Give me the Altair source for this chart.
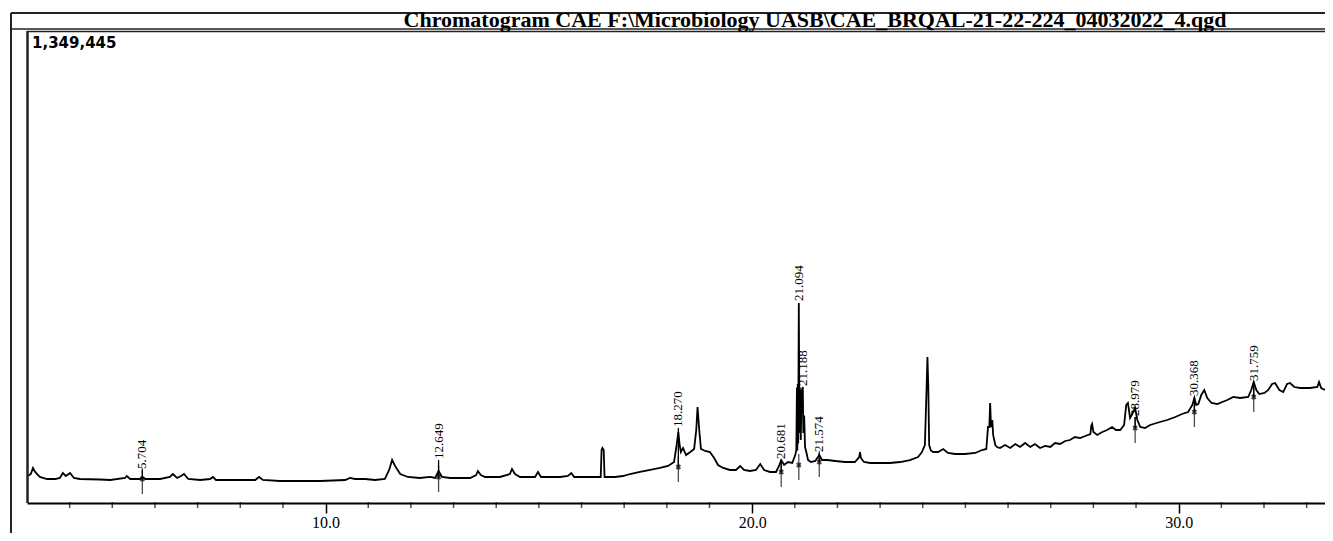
import altair as alt
import pandas as pd

# ---- data (time in min, intensity in counts) ----
times = [3.02, 3.09, 3.14, 3.19, 3.30, 3.47, 3.66, 3.77, 3.84, 3.91, 4.01, 4.10, 4.24, 4.71, 4.95,
         5.30, 5.34, 5.42, 5.65, 5.704, 5.77, 6.12, 6.35, 6.42, 6.52, 6.61, 6.68, 6.78, 7.06, 7.29,
         7.36, 7.43, 7.99, 8.35, 8.44, 8.53, 8.93, 9.40, 9.87, 10.46, 10.57, 10.69, 10.93, 11.16, 11.39,
         11.49, 11.56, 11.63, 11.75, 11.93, 12.21, 12.45, 12.57, 12.649, 12.73, 12.92, 13.39, 13.53, 13.57, 13.64,
         13.74, 14.09, 14.32, 14.37, 14.44, 14.56, 14.91, 14.98, 15.05, 15.50, 15.68, 15.76, 15.83, 16.20, 16.45,
         16.47, 16.49, 16.52, 16.54, 16.79, 16.97, 17.14, 17.37, 17.61, 17.84, 18.03, 18.17, 18.23, 18.270, 18.30,
         18.33, 18.38, 18.45, 18.55, 18.64, 18.69, 18.72, 18.76, 18.80, 18.90, 19.01, 19.11, 19.20, 19.32, 19.48,
         19.62, 19.72, 19.81, 19.95, 20.09, 20.19, 20.28, 20.42, 20.56, 20.63, 20.681, 20.75, 20.84, 20.94, 21.01,
         21.035, 21.05, 21.06, 21.07, 21.08, 21.094, 21.11, 21.12, 21.14, 21.16, 21.188, 21.20, 21.22, 21.24, 21.27,
         21.31, 21.38, 21.48, 21.574, 21.64, 21.76, 21.95,
         22.18, 22.41, 22.51, 22.53, 22.55, 22.62, 22.77, 23.00, 23.23, 23.47, 23.70, 23.89, 23.98, 24.05, 24.09,
         24.11, 24.13, 24.15, 24.19, 24.24, 24.36, 24.48, 24.59, 24.76, 24.99, 25.23, 25.39, 25.49, 25.53, 25.56,
         25.58, 25.60, 25.63, 25.65, 25.70, 25.74, 25.81, 25.93, 26.05, 26.17, 26.28, 26.40, 26.52, 26.63, 26.75,
         26.87, 26.99, 27.10, 27.22, 27.34, 27.45, 27.57, 27.69, 27.81, 27.93, 27.95, 27.97, 28.00, 28.09, 28.21,
         28.32, 28.44, 28.53, 28.63, 28.72, 28.77, 28.81, 28.86, 28.91, 28.979, 29.03, 29.10, 29.21, 29.33, 29.56,
         29.73, 29.92, 30.08, 30.22, 30.32, 30.368, 30.41, 30.46, 30.53, 30.60, 30.67, 30.77, 30.91, 31.02, 31.14,
         31.28, 31.44, 31.63, 31.70, 31.759, 31.82, 31.89, 32.01, 32.10, 32.19, 32.26, 32.36, 32.45, 32.54, 32.61,
         32.71, 32.85, 33.08, 33.25, 33.29, 33.34, 33.43]

intensity = [77200, 82900, 100100, 88700, 74400, 68600, 68600, 71500, 85800, 77200, 85800, 71500, 68600, 67200, 65800,
             71500, 77200, 68600, 68600, 74400, 68600, 68600, 74400, 82900, 71500, 77200, 82900, 68600, 65800, 68600,
             74400, 65800, 65800, 65800, 74400, 65800, 62900, 62900, 62900, 65800, 71500, 68600, 68600, 65800, 68600,
             94400, 122900, 105800, 82900, 74400, 71500, 74400, 71500, 91500, 74400, 71500, 71500, 80100, 91500, 80100,
             74400, 74400, 82900, 97200, 82900, 74400, 74400, 88700, 74400, 74400, 77200, 85800, 74400, 74400, 74400,
             151500, 157300, 151500, 74400, 74400, 77200, 82900, 88700, 94400, 100100, 105800, 117200, 165800, 203000, 165800,
             145800, 157300, 137200, 145800, 154400, 208700, 274500, 208700, 154400, 148700, 145800, 128700, 108600, 100100, 94400,
             94400, 105800, 94400, 91500, 94400, 111500, 94400, 88700, 88700, 105800, 122900, 108600, 117200, 114400, 137200,
             150000, 330000, 150000, 340000, 170000, 571800, 200000, 330000, 180000, 320000, 331600, 200000, 250000, 160000, 145800,
             122900, 117200, 120100, 137200, 122900, 122900, 120100,
             117200, 117200, 131500, 145800, 128700, 117200, 114400, 114400, 114400, 117200, 122900, 131500, 145800, 165800, 331600,
             417400, 331600, 165800, 150000, 145800, 145800, 154400, 143000, 140100, 140100, 143000, 151500, 154400, 217300, 217300,
             285900, 217300, 237300, 194400, 165800, 160100, 157300, 165800, 157300, 168700, 160100, 171500, 160100, 168700, 157300,
             163000, 160100, 171500, 168700, 177300, 180100, 188700, 185800, 191600, 197300, 220100, 225900, 203000, 194400, 203000,
             208700, 217300, 208700, 208700, 223000, 280200, 285900, 243000, 254500, 271600, 237300, 217300, 214400, 223000, 231600,
             237300, 245900, 254500, 260200, 280200, 300200, 280200, 283000, 308800, 323100, 300200, 285900, 283000, 288800, 294500,
             303100, 300200, 303100, 323100, 345900, 323100, 311600, 314500, 323100, 340200, 343100, 323100, 317300, 340200, 343100,
             331600, 328800, 328800, 331600, 345900, 328800, 323100]

peak_times = [5.704, 12.649, 18.270, 20.681, 21.094, 21.188, 21.574, 28.979, 30.368, 31.759]
peak_labels = ["5.704", "12.649", "18.270", "20.681", "21.094", "21.188", "21.574", "28.979", "30.368", "31.759"]
peak_label_levels = [94400, 122900, 214400, 122900, 574700, 331600, 143000, 245900, 303100, 345900]

marker_times = [5.704, 12.649, 18.270, 20.681, 21.094, 21.574, 28.979, 30.368, 31.759]
marker_levels = [68600, 74400, 102900, 88700, 108600, 117200, 214400, 260200, 303100]
marker_tops = [94400, 122900, 214400, 122900, 108600, 143000, 245900, 303100, 345900]

minor_ticks = [4, 5, 6, 7, 8, 9, 11, 12, 13, 14, 15, 16, 17, 18, 19, 21, 22, 23, 24, 25, 26, 27, 28, 29, 31, 32, 33]
major_ticks = [10, 20, 30]

y_max = 1349445
title_text = "Chromatogram CAE F:\\Microbiology UASB\\CAE_BRQAL-21-22-224_04032022_4.qgd"

W, H = 1298, 472

trace = pd.DataFrame({"t": times, "i": intensity})
labels = pd.DataFrame({"t": peak_times, "lab": peak_labels, "lvl": peak_label_levels})
markers = pd.DataFrame({"t": marker_times, "base": marker_levels, "top": marker_tops})
minor = pd.DataFrame({"t": minor_ticks, "z": [0] * len(minor_ticks)})

xs = alt.Scale(domain=[3, 33.43], nice=False, zero=False)
ys = alt.Scale(domain=[0, y_max], nice=False)

x_axis = alt.Axis(values=major_ticks, format=".1f", title=None, grid=False,
                  labelFont="Liberation Serif", labelFontSize=16, labelColor="black",
                  tickSize=10, tickColor="black", tickWidth=1.5,
                  domainColor="black", domainWidth=2, labelPadding=1)

line = alt.Chart(trace).mark_line(color="black", strokeWidth=1.8).encode(
    x=alt.X("t:Q", scale=xs, axis=x_axis),
    y=alt.Y("i:Q", scale=ys, axis=None),
)

minor_layer = alt.Chart(minor).mark_tick(orient="vertical", size=6, thickness=1.5, color="black", yOffset=2).encode(
    x=alt.X("t:Q", scale=xs), y=alt.Y("z:Q", scale=ys)
)

marker_rule = alt.Chart(markers).mark_rule(color="black", strokeWidth=1.3).encode(
    x=alt.X("t:Q", scale=xs), y=alt.Y("top:Q", scale=ys), y2="base:Q"
)
marker_tick = alt.Chart(markers).mark_tick(orient="vertical", size=26, thickness=1.3, color="black", yOffset=2).encode(
    x=alt.X("t:Q", scale=xs), y=alt.Y("base:Q", scale=ys)
)
marker_cross = alt.Chart(markers).mark_point(shape="cross", size=30, filled=True, color="black", angle=45).encode(
    x=alt.X("t:Q", scale=xs), y=alt.Y("base:Q", scale=ys)
)

label_layer = alt.Chart(labels).mark_text(angle=270, align="left", baseline="middle", dx=1,
                                          font="Liberation Serif", fontSize=13, color="black").encode(
    x=alt.X("t:Q", scale=xs), y=alt.Y("lvl:Q", scale=ys), text="lab:N"
)

one = alt.Data(values=[{"k": 1}])
frame_color = "#222222"


def hrule(x1, x2, y, w):
    return alt.Chart(one).mark_rule(color=frame_color, strokeWidth=w).encode(
        x=alt.value(x1), x2=alt.value(x2), y=alt.value(y))


def vrule(x, y1, y2, w):
    return alt.Chart(one).mark_rule(color=frame_color, strokeWidth=w).encode(
        x=alt.value(x), y=alt.value(y1), y2=alt.value(y2))


frame = [
    hrule(-16, W, -18, 2),   # outer frame top
    vrule(-16, -18, 505, 2),  # outer frame left
    hrule(-16, W, -2, 1.5),  # title band bottom
    hrule(0, W, 0.5, 1.5),   # plot top
    vrule(0.5, 0, H, 2.5),   # plot left
]

title = alt.Chart(one).mark_text(font="Liberation Serif", fontWeight="bold", fontSize=22,
                                 align="center", baseline="alphabetic", color="black").encode(
    x=alt.value(788), y=alt.value(-4), text=alt.value(title_text))

ymax_text = alt.Chart(one).mark_text(font="DejaVu Sans", fontWeight="bold", fontSize=15,
                                     align="left", baseline="alphabetic", color="black").encode(
    x=alt.value(5), y=alt.value(17), text=alt.value(f"{y_max:,}"))

chart = alt.layer(
    line, minor_layer, marker_rule, marker_tick, marker_cross, label_layer,
    *frame, title, ymax_text
).properties(
    width=W, height=H,
    padding={"left": 19, "top": 23, "right": 0, "bottom": 30},
    autosize=alt.AutoSizeParams(type="none"),
    background="white",
).configure_view(stroke=None)

chart.save("out.html", embed_options={"renderer": "svg", "actions": False})
